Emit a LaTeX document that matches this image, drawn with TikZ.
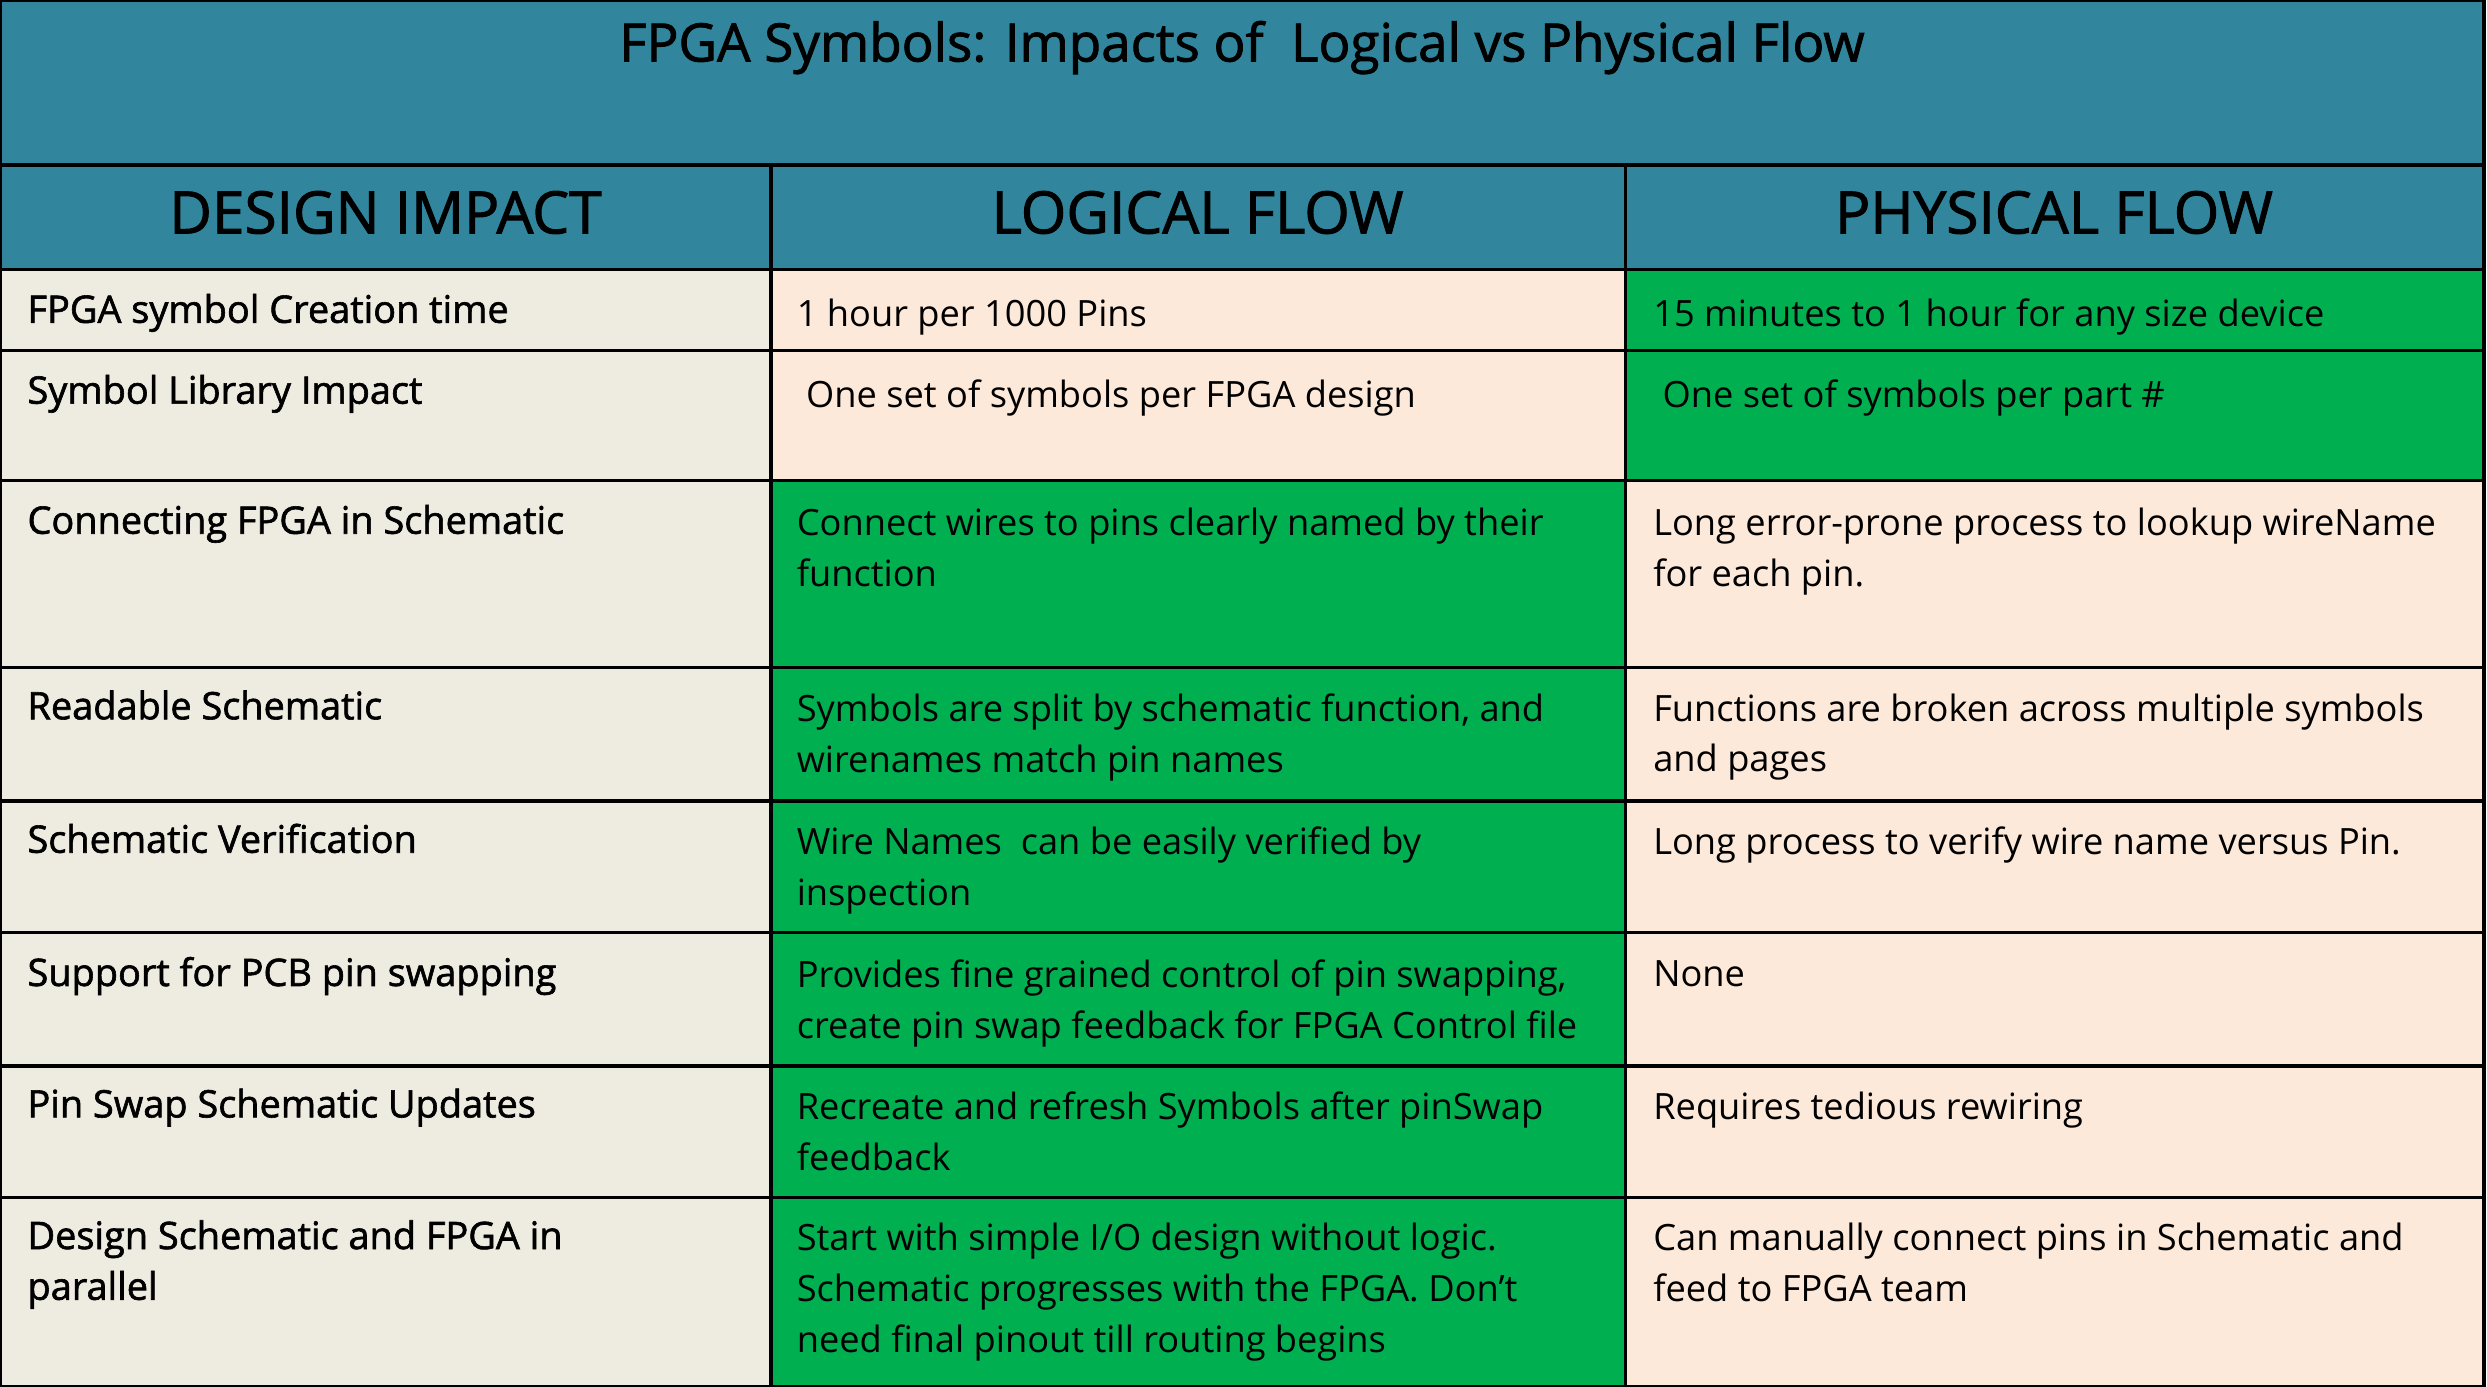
\documentclass[tikz,border=0pt]{standalone}
\usepackage{fontspec}
\setmainfont{Open Sans}
\newfontfamily\semib{Open Sans}[FakeBold=1.6]
\definecolor{teal}{HTML}{31859C}
\definecolor{beige}{HTML}{EEECE1}
\definecolor{peach}{HTML}{FDE9D9}
\definecolor{grn}{HTML}{00B050}
\tikzset{
 cell/.style={anchor=north west,inner sep=0pt,align=left,font=\fontsize{13}{18.2}\selectfont},
 lcell/.style={cell,font=\semib\fontsize{13.6}{18.2}\selectfont},
 hdr/.style={font=\semib\fontsize{21}{24}\selectfont,anchor=center},
}
\begin{document}
\begin{tikzpicture}[x=0.02cm,y=-0.02cm]
\useasboundingbox (0,0) rectangle (1568,874);
\fill[teal] (0,0) rectangle (1566,170);
\def\rows{170/221,221/303,303/421,421/505,505/588,588/672,672/755,755/874}
\foreach \a/\b in \rows {\fill[beige] (0,\a) rectangle (486,\b);}
\foreach \a/\b/\m/\r in {170/221/peach/grn,221/303/peach/grn,303/421/grn/peach,421/505/grn/peach,505/588/grn/peach,588/672/grn/peach,672/755/grn/peach,755/874/grn/peach}
 {\fill[\m] (486,\a) rectangle (1025,\b); \fill[\r] (1025,\a) rectangle (1566,\b);}
\draw[line width=1.2pt] (0,0) rectangle (1566,874);
\foreach \y in {104,170,221,303,421,505,588,672,755} \draw[line width=1.2pt] (0,\y) -- (1566,\y);
\draw[line width=1.2pt] (486,104) -- (486,874) (1025,104) -- (1025,874);
\node[font=\semib\fontsize{19}{22}\selectfont] (title) at (783,30) {FPGA Symbols: Impacts of \ Logical vs Physical Flow};
\node[hdr] (h1) at (243,134) {DESIGN IMPACT};
\node[hdr] (h2) at (755,134) {LOGICAL FLOW};
\node[hdr] (h3) at (1295,134) {PHYSICAL FLOW};
\node[lcell] (a1) at (17,185) {FPGA symbol Creation time};
\node[cell] (b1) at (502,188) {1 hour per 1000 Pins};
\node[cell] (c1) at (1042,188) {15 minutes to 1 hour for any size device};
\node[lcell] (a2) at (17,236) {Symbol Library Impact};
\node[cell] (b2) at (502,239) {\ One set of symbols per FPGA design};
\node[cell] (c2) at (1042,239) {\ One set of symbols per part \#};
\foreach \n/\y/\ta/\tb/\tc in {
 3/320/{Connecting FPGA in Schematic}/{Connect wires to pins clearly named by their\\function}/{Long error-prone process to lookup wireName\\for each pin.},
 4/437/{Readable Schematic}/{Symbols are split by schematic function, and\\wirenames match pin names}/{Functions are broken across multiple symbols\\and pages},
 5/521/{Schematic Verification}/{Wire Names \ can be easily verified by\\inspection}/{Long process to verify wire name versus Pin.},
 6/605/{Support for PCB pin swapping}/{Provides fine grained control of pin swapping,\\create pin swap feedback for FPGA Control file}/{None},
 7/688/{Pin Swap Schematic Updates}/{Recreate and refresh Symbols after pinSwap\\feedback}/{Requires tedious rewiring},
 8/771/{Design Schematic and FPGA in\\parallel}/{Start with simple I/O design without logic.\\Schematic progresses with the FPGA. Don’t\\need final pinout till routing begins}/{Can manually connect pins in Schematic and\\feed to FPGA team}}
{
 \node[lcell] (a\n) at (17,\y-2) {\ta};
 \node[cell] (b\n) at (502,\y) {\tb};
 \node[cell] (c\n) at (1042,\y) {\tc};
}
\end{tikzpicture}
\end{document}
